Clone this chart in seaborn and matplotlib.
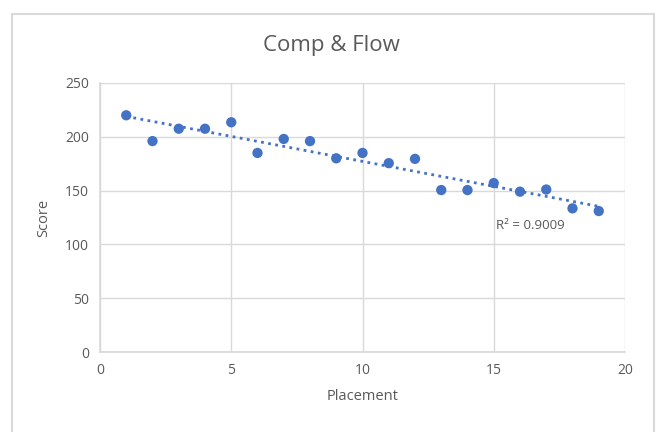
import matplotlib
matplotlib.use("Agg")
import matplotlib.pyplot as plt
import pandas as pd
import seaborn as sns
from matplotlib.patches import Rectangle

placement = list(range(1, 20))
score = [220, 196, 207.5, 207.5, 213.5, 185, 198, 196, 180, 185,
         175.5, 179.5, 150.5, 150.5, 157, 149, 151, 133.5, 131]

x_ticks = [0, 5, 10, 15, 20]
y_ticks = [0, 50, 100, 150, 200, 250]

df = pd.DataFrame({"Placement": placement, "Score": score})

sns.set_theme(style="whitegrid")
plt.rcParams["font.family"] = ["Open Sans", "DejaVu Sans"]

blue = "#4472C4"
grid = "#D9D9D9"
text = "#595959"

fig, ax = plt.subplots(figsize=(6.63, 4.32), dpi=100)
fig.subplots_adjust(left=100 / 663, right=625 / 663, top=1 - 83 / 432, bottom=1 - 352 / 432)

sns.regplot(data=df, x="Placement", y="Score", ax=ax, ci=None,
            scatter_kws={"s": 55, "color": blue, "alpha": 1, "edgecolor": "none", "zorder": 3},
            line_kws={"color": blue, "linestyle": (0, (1, 1.6)), "linewidth": 2, "zorder": 2})

ax.set_xlim(0, 20)
ax.set_ylim(0, 250)
ax.set_xticks(x_ticks)
ax.set_yticks(y_ticks)
ax.grid(True, color=grid, linewidth=1)
for side, sp in ax.spines.items():
    sp.set_visible(side in ("left", "bottom"))
    sp.set_color(grid)
ax.tick_params(colors=text, labelsize=10, length=0, pad=8)
ax.set_xlabel("Placement", color=text, fontsize=10.5, labelpad=8)
ax.set_ylabel("Score", color=text, fontsize=10.5, labelpad=10)
fig.suptitle("Comp & Flow", x=0.5, y=1 - 45 / 432, va="center", color=text, fontsize=16)

ax.text(15.1, 118, "R² = 0.9009", color=text, fontsize=9.5, va="center")

# chart area border (bottom edge is cut off in the reference)
fig.patches.append(Rectangle((12 / 663, -0.05), 642 / 663, 1.05 - 14 / 432, transform=fig.transFigure,
                             fill=False, edgecolor="#D9D9D9", linewidth=1.5))

fig.savefig("out.png", dpi=100)
